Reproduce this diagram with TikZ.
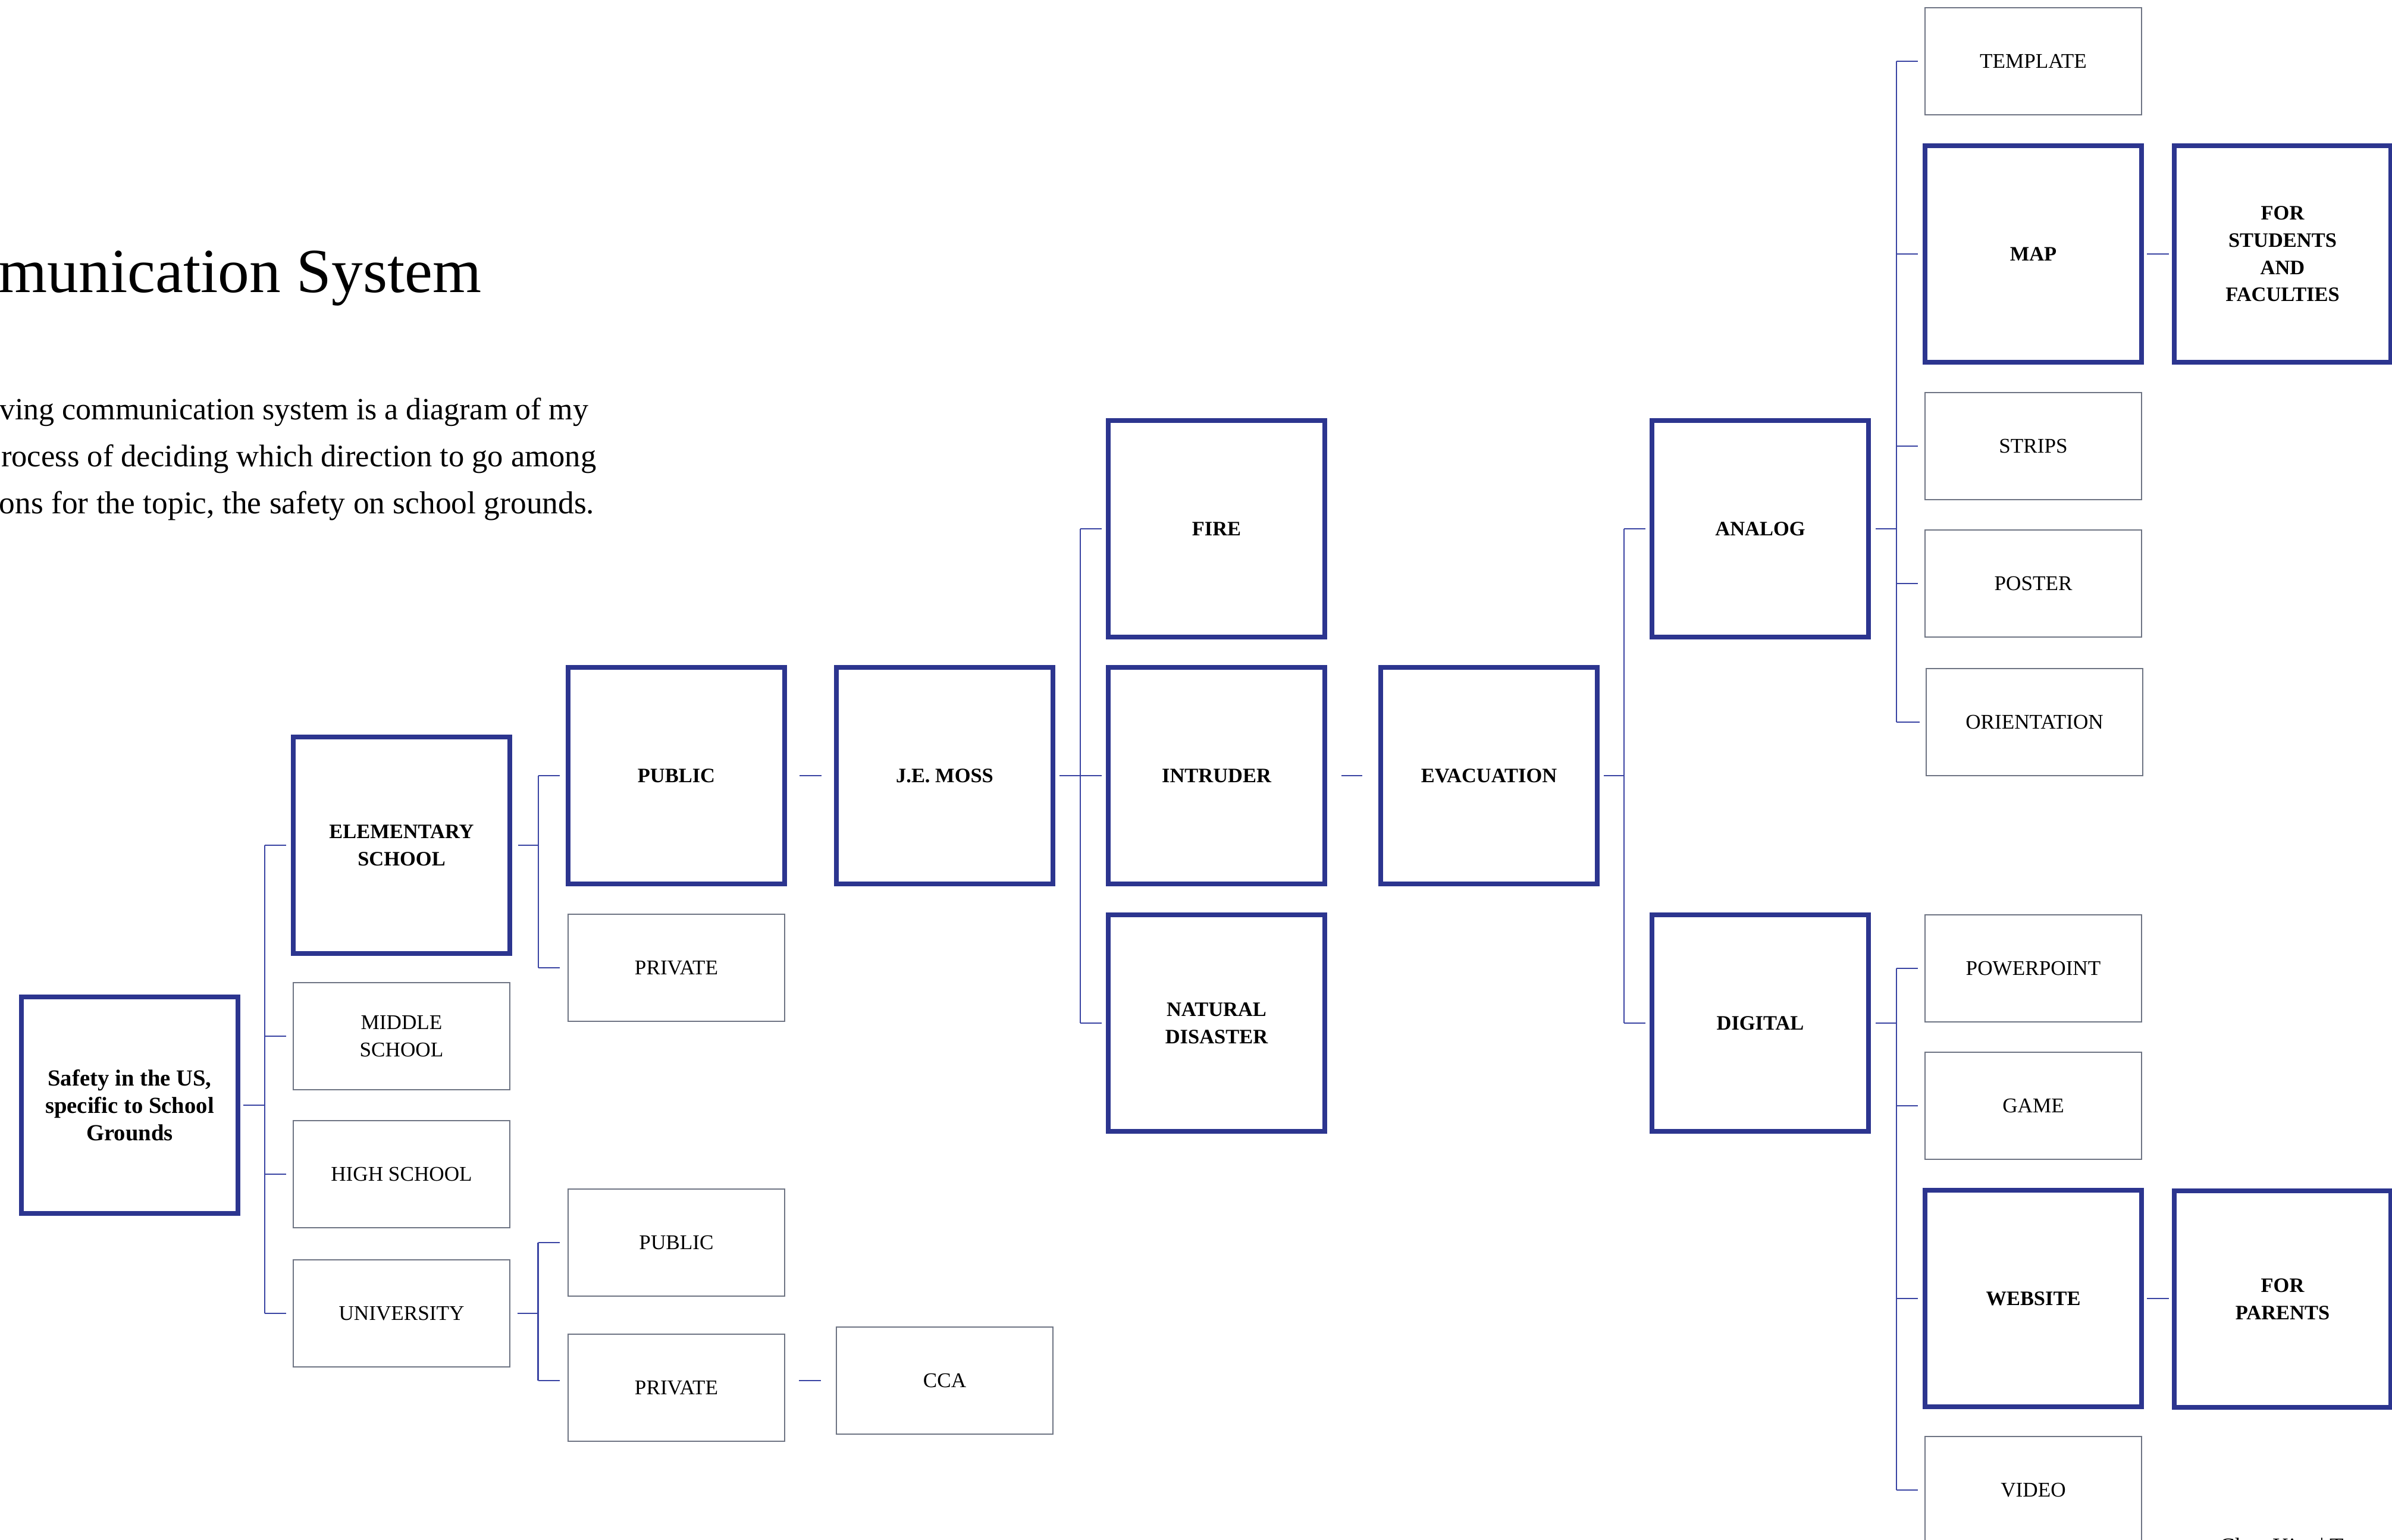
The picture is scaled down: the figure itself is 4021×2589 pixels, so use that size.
\documentclass[tikz,border=0pt]{standalone}
\usepackage{fontspec}
\setmainfont{Liberation Serif}
\definecolor{boxblue}{HTML}{2C358F}
\definecolor{linkblue}{HTML}{3A44A3}
\definecolor{boxgray}{HTML}{6E7483}
\tikzset{
    bigbox/.style={draw=boxblue, line width=0.08cm, minimum width=3.64cm, minimum height=3.64cm,
        align=center, font=\fontsize{9.8}{13}\selectfont\bfseries},
    smallbox/.style={draw=boxgray, line width=0.02cm, minimum width=3.63cm, minimum height=1.79cm,
        align=center, font=\fontsize{10}{13}\selectfont},
    link/.style={draw=linkblue, line width=0.025cm},
    bodytext/.style={anchor=base east, inner sep=0pt, font=\fontsize{#1}{20}\selectfont}
}

\begin{document}
\begin{tikzpicture}[x=0.01cm, y=-0.01cm]
        \useasboundingbox (0,0) rectangle (4021,2589);
        \clip (0,0) rectangle (4021,2589);

        \node[anchor=base east, inner sep=0pt, font=\fontsize{30}{36}\selectfont] (title) at (810,492) {munication System};
        \node[bodytext=14.8] (par1) at (990,706) {ving communication system is a diagram of my};
        \node[bodytext=14.95] (par2) at (1003,785) {rocess of deciding which direction to go among};
        \node[bodytext=15.2] (par3) at (1000,864) {ons for the topic, the safety on school grounds.};

        \node[bigbox, font=\fontsize{11}{13}\selectfont\bfseries] (safety) at (218,1858) {Safety in the US,\\specific to School\\Grounds};

        \node[bigbox] (elem) at (675,1421) {ELEMENTARY\\SCHOOL};
        \node[smallbox] (mid) at (675,1742) {MIDDLE\\SCHOOL};
        \node[smallbox] (high) at (675,1974) {HIGH SCHOOL};
        \node[smallbox] (univ) at (675,2208) {UNIVERSITY};

        \node[bigbox] (pub1) at (1137,1304) {PUBLIC};
        \node[smallbox] (prv1) at (1137,1627) {PRIVATE};
        \node[smallbox] (pub2) at (1137,2089) {PUBLIC};
        \node[smallbox] (prv2) at (1137,2333) {PRIVATE};

        \node[bigbox] (moss) at (1588,1304) {J.E. MOSS};
        \node[smallbox] (cca) at (1588,2321) {CCA};

        \node[bigbox] (fire) at (2045,889) {FIRE};
        \node[bigbox] (intr) at (2045,1304) {INTRUDER};
        \node[bigbox] (natu) at (2045,1720) {NATURAL\\DISASTER};

        \node[bigbox] (evac) at (2503,1304) {EVACUATION};

        \node[bigbox] (analog) at (2959,889) {ANALOG};
        \node[bigbox] (digital) at (2959,1720) {DIGITAL};

        \node[smallbox] (templ) at (3418,103) {TEMPLATE};
        \node[bigbox] (map) at (3418,427) {MAP};
        \node[smallbox] (strips) at (3418,750) {STRIPS};
        \node[smallbox] (poster) at (3418,981) {POSTER};
        \node[smallbox] (orient) at (3420,1214) {ORIENTATION};

        \node[smallbox] (ppt) at (3418,1628) {POWERPOINT};
        \node[smallbox] (game) at (3418,1859) {GAME};
        \node[bigbox] (web) at (3418,2183) {WEBSITE};
        \node[smallbox] (video) at (3418,2505) {VIDEO};

        \node[bigbox] (stud) at (3837,427) {FOR\\STUDENTS\\AND\\FACULTIES};
        \node[bigbox] (parents) at (3837,2184) {FOR\\PARENTS};

        \node[anchor=base west, inner sep=0pt, font=\fontsize{11}{13}\selectfont] (sign) at (3731,2612) {Chae Kim | T};

        \draw[link] (safety.east) ++(5,0) -- ++(36,0) coordinate (b1);
        \draw[link] (b1 |- elem.west) -- (b1 |- univ.west);
        \draw[link] (b1 |- elem.west) -- ++(36,0) (b1 |- mid.west) -- ++(36,0)
                    (b1 |- high.west) -- ++(36,0) (b1 |- univ.west) -- ++(36,0);

        \draw[link] (elem.east) ++(10,0) -- ++(34,0) coordinate (b2);
        \draw[link] (b2 |- pub1.west) -- (b2 |- prv1.west);
        \draw[link] (b2 |- pub1.west) -- ++(36,0) (b2 |- prv1.west) -- ++(36,0);

        \draw[link] (univ.east) ++(12,0) -- ++(35,0) coordinate (b3);
        \draw[link] (b3 |- pub2.west) -- (b3 |- cca.west);
        \draw[link] (b3 |- pub2.west) -- ++(36,0) (b3 |- cca.west) -- ++(36,0);

        \draw[link] (pub1.east) ++(21,0) -- ++(37,0);
        \draw[link] (cca.west) ++(-25,0) -- ++(-37,0);

        \draw[link] (moss.east) ++(7,0) -- ++(35,0) coordinate (b4);
        \draw[link] (b4 |- fire.west) -- (b4 |- natu.west);
        \draw[link] (b4 |- fire.west) -- ++(36,0) (b4 |- intr.west) -- ++(36,0)
                    (b4 |- natu.west) -- ++(36,0);

        \draw[link] (intr.east) ++(24,0) -- ++(35,0);

        \draw[link] (evac.east) ++(7,0) -- ++(34,0) coordinate (b5);
        \draw[link] (b5 |- analog.west) -- (b5 |- digital.west);
        \draw[link] (b5 |- analog.west) -- ++(36,0) (b5 |- digital.west) -- ++(36,0);

        \draw[link] (analog.east) ++(8,0) -- ++(35,0) coordinate (b6);
        \draw[link] (b6 |- templ.west) -- (b6 |- orient.west);
        \draw[link] (b6 |- templ.west) -- ++(36,0) (b6 |- map.west) -- ++(36,0)
                    (b6 |- strips.west) -- ++(36,0) (b6 |- poster.west) -- ++(36,0)
                    (b6 |- orient.west) -- ++(39,0);

        \draw[link] (digital.east) ++(8,0) -- ++(35,0) coordinate (b7);
        \draw[link] (b7 |- ppt.west) -- (b7 |- video.west);
        \draw[link] (b7 |- ppt.west) -- ++(36,0) (b7 |- game.west) -- ++(36,0)
                    (b7 |- web.west) -- ++(36,0) (b7 |- video.west) -- ++(36,0);

        \draw[link] (map.east) ++(5,0) -- ++(37,0);
        \draw[link] (web.east) ++(5,0) -- ++(37,0);

\end{tikzpicture}
\end{document}
